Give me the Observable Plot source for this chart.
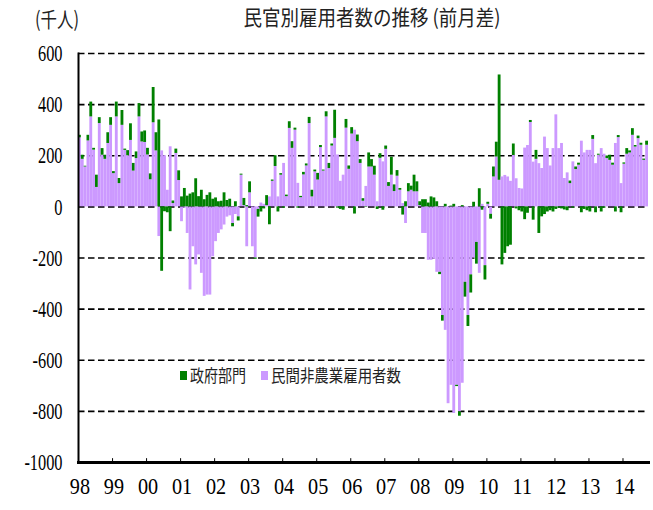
<!DOCTYPE html>
<html><head><meta charset="utf-8">
<script src="https://cdn.jsdelivr.net/npm/d3@7"></script>
<script src="https://cdn.jsdelivr.net/npm/@observablehq/plot@0.6"></script>
<style>
body{margin:0;background:#fff;}
#chart{width:653px;height:510px;}
</style></head><body><div id="chart"></div>
<script>
// ---- data (thousands, monthly change, Jan 1998 - Sep 2014) ----
const yearLabels = ["98","99","00","01","02","03","04","05","06","07","08","09","10","11","12","13","14"];
const privateJobs = [
  270,186,156,258,352,222,76,326,202,186,248,319,
  130,352,91,319,221,200,260,140,189,352,254,252,
  203,106,329,219,-116,219,200,65,235,13,209,103,
  -58,-5,-104,-325,-156,-227,-188,-260,-350,-345,-345,-195,
  -136,-104,-90,-71,-40,-35,-65,-30,-39,124,5,-156,
  55,-156,-200,-10,15,10,5,39,100,158,39,124,
  170,40,307,229,300,92,36,125,160,326,39,137,
  105,232,140,352,150,238,268,203,100,124,308,147,
  285,300,255,170,22,80,156,156,124,20,190,176,
  225,80,124,60,120,65,13,-65,59,65,59,59,
  5,-104,-104,-209,-209,-205,-256,-256,-425,-483,-770,-698,
  -808,-698,-802,-690,-295,-425,-266,-200,-139,-260,10,-230,
  10,-29,117,195,104,117,123,117,100,201,110,72,
  70,230,240,330,175,186,169,150,273,228,160,228,
  360,228,248,111,133,91,176,146,163,257,211,221,
  221,264,169,202,228,206,189,182,163,248,271,91,
  167,206,211,280,234,267,241,182,241
];
const govJobs = [
  10,16,3,22,58,7,48,23,26,16,42,30,
  8,58,20,58,5,20,65,30,26,52,39,45,
  26,23,138,71,340,-252,-19,-23,-97,10,17,38,
  39,72,42,50,55,110,40,65,28,45,55,30,
  35,20,22,55,25,30,-13,20,-16,4,28,5,
  43,0,-5,-30,-20,-8,39,-70,5,42,-20,6,
  -5,6,26,26,8,-5,5,10,8,24,26,7,
  26,8,4,20,20,8,110,-5,-10,-13,34,13,
  25,-28,26,15,10,-2,55,29,35,-10,18,-13,
  13,15,70,26,22,7,-32,20,32,16,65,39,
  15,28,28,15,39,35,20,-9,-22,10,0,3,
  10,-5,-17,5,-58,-43,-71,18,-85,71,-13,-56,
  8,-19,39,58,412,-227,-182,-156,-150,45,-8,-15,
  -20,-50,-25,8,-52,35,-104,-39,-30,-20,-15,-20,
  -10,-5,-8,-12,-15,10,-5,10,8,-23,-10,-15,
  -20,15,-23,4,-20,-5,10,20,8,-20,8,-23,
  5,22,8,26,6,10,8,5,16
];
const yTicks = [600,400,200,0,-200,-400,-600,-800,-1000];
const seriesNames = ["民間非農業雇用者数","政府部門"];
const seriesColors = ["#CC99FF","#008000"];
const titleText = "民官別雇用者数の推移 (前月差)";
const unitText = "(千人)";

// ---- build table ----
const months = d3.range(privateJobs.length);
const rows = [];
months.forEach(i => {
  rows.push({i, s: seriesNames[0], v: privateJobs[i]});
  rows.push({i, s: seriesNames[1], v: govJobs[i]});
});
const janIdx = months.filter(i => i % 12 === 0);

const W = 653, H = 510;
const serif = "'Liberation Serif','DejaVu Serif',serif";
const jp = "'Noto Sans CJK JP','Noto Sans CJK SC',sans-serif";

const chart = Plot.plot({
  width: W, height: H,
  marginTop: 53, marginBottom: 48, marginLeft: 78, marginRight: 5,
  style: {background: "#fff"},
  x: {type: "band", domain: months, padding: 0, axis: null},
  y: {domain: [-1000, 600], axis: null},
  color: {domain: seriesNames, range: seriesColors},
  marks: [
    Plot.ruleY(yTicks.filter(v => v > -1000), {stroke: "#000", strokeWidth: 1.7, strokeDasharray: "6.5,3.5"}),
    Plot.barY(rows, {x: "i", y: "v", fill: "s"}),
    Plot.frame({anchor: "left", stroke: "#000", strokeWidth: 2}),
    Plot.frame({anchor: "bottom", stroke: "#000", strokeWidth: 3}),
    Plot.ruleX(janIdx.slice(1), {x: d => d, y1: -1000, y2: -985, stroke: "#000", strokeWidth: 1, dx: -1.4}),
    Plot.text(yTicks, {y: d => d, text: d => String(d), frameAnchor: "left", dx: -16, textAnchor: "end",
      fontSize: 24, fontFamily: serif, fill: "#000", className: "ycond"}),
    Plot.text(janIdx, {x: d => d, text: d => yearLabels[d / 12], frameAnchor: "bottom", dy: 31,
      fontSize: 24, fontFamily: serif, fill: "#000", className: "xcond"})
  ]
});
document.getElementById("chart").appendChild(chart);

// condense serif digits
function condense(sel, k) {
  chart.querySelectorAll(sel).forEach(t => {
    const L = t.getComputedTextLength();
    t.setAttribute("textLength", (L * k).toFixed(1));
    t.setAttribute("lengthAdjust", "spacingAndGlyphs");
  });
}
condense(".ycond text", 0.68);
condense(".xcond text", 0.84);

const svg = d3.select(chart);
// title & unit
svg.append("text").attr("x", 372).attr("y", 19).attr("text-anchor", "middle").attr("dominant-baseline", "middle")
  .attr("font-family", jp).attr("font-size", 21).attr("fill", "#222")
  .attr("textLength", 257).attr("lengthAdjust", "spacingAndGlyphs").text(titleText);
svg.append("text").attr("x", 35).attr("y", 21).attr("text-anchor", "start").attr("dominant-baseline", "middle")
  .attr("font-family", jp).attr("font-size", 21).attr("fill", "#222")
  .attr("textLength", 44).attr("lengthAdjust", "spacingAndGlyphs").text(unitText);
// legend (inside plot)
const leg = svg.append("g");
const legItems = [
  {name: seriesNames[1], color: seriesColors[1], x: 180, len: 56},
  {name: seriesNames[0], color: seriesColors[0], x: 261, len: 130}
];
legItems.forEach(d => {
  leg.append("rect").attr("x", d.x).attr("y", 371).attr("width", 7).attr("height", 9).attr("fill", d.color);
  leg.append("text").attr("x", d.x + 10).attr("y", 377).attr("text-anchor", "start").attr("dominant-baseline", "middle")
    .attr("font-family", jp).attr("font-size", 17).attr("fill", "#222")
    .attr("textLength", d.len).attr("lengthAdjust", "spacingAndGlyphs").text(d.name);
});
</script>
</body></html>
